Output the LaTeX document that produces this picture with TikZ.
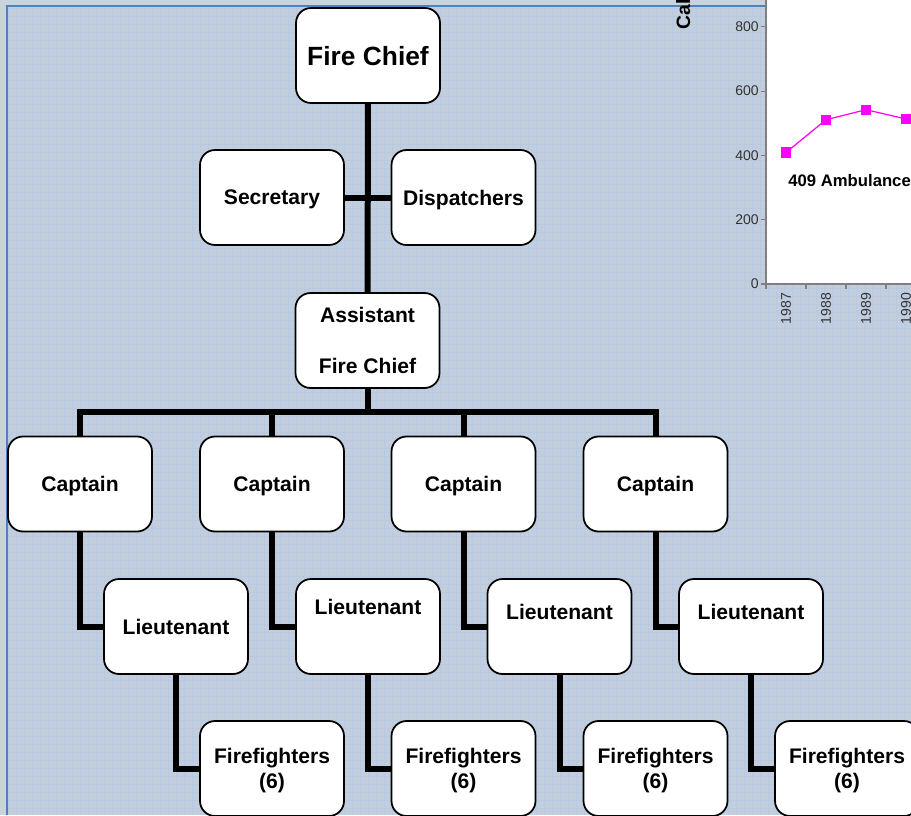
\documentclass[tikz,border=0pt]{standalone}
\usepackage{fontspec}
\setmainfont{Liberation Sans}
\usetikzlibrary{plotmarks}
\definecolor{paper}{HTML}{C8D3DB}
\definecolor{sheet}{HTML}{C2CEDD}
\definecolor{mesh}{HTML}{B8CAE2}
\definecolor{frameblue}{HTML}{4F81BD}
\definecolor{axisgray}{HTML}{7F7F7F}
\definecolor{callpink}{HTML}{FF00FF}
\tikzset{
  box/.style={draw, line width=1pt, fill=white, rounded corners=0.3cm,
    minimum width=2.88cm, minimum height=1.9cm, align=center, text depth=0pt,
    font=\bfseries\fontsize{12}{14.4}\selectfont},
  link/.style={line width=0.12cm},
  tick/.style={axisgray, line width=0.6pt},
  ticklabel/.style={text=black!80, font=\fontsize{8}{9.6}\selectfont, inner sep=1pt},
}
\begin{document}
\begin{tikzpicture}[x=0.02cm, y=-0.02cm]
			\useasboundingbox (0,0) rectangle (911,815);
			\clip (0,0) rectangle (911,815);
			% background sheet
			\fill[paper] (0,0) rectangle (911,815);
			\fill[sheet] (7,6) rectangle (911,815);
			\draw[mesh, very thin, step=0.16cm] (7,6) grid (911,815);
			\draw[frameblue, line width=0.05cm] (7,815) -- (7,6) -- (911,6);

			% chart in the corner
			\fill[white] (766,0) rectangle (911,284);
			\draw[tick] (766,0) -- (766,284) -- (911,284);
			\foreach \v in {0,200,...,800}
				\draw[tick] (761,284-0.3215*\v) -- (766,284-0.3215*\v) node[ticklabel, anchor=east, at start] {\v};
			\foreach \t in {766,806,846,886}
				\draw[tick] (\t,284) -- (\t,289);
			\foreach \yr [count=\k] in {1987,...,1990}
				\node[ticklabel, rotate=90, anchor=east] (yr\k) at (746+40*\k,291) {\yr};
			\draw[callpink, line width=0.7pt, mark=square*, mark size=2.5pt, mark options={fill=callpink}]
				plot coordinates {(786,152.5) (826,119.7) (866,109.7) (906,119)};
			\node[anchor=west, inner sep=0pt, font=\bfseries\fontsize{9.5}{11}\selectfont] (amb) at (788,181) {409 Ambulance};
			\node[rotate=90, anchor=base west, inner sep=0pt, font=\bfseries\fontsize{11}{13}\selectfont] (calls) at (690,30) {Calls};

			% the chart of command
			\node[box, font=\bfseries\fontsize{15}{18}\selectfont] (chief) at (368,55.5) {Fire Chief};
			\node[box] (sec) at (272,197.5) {Secretary};
			\node[box] (disp) at (463.5,197.5) {Dispatchers};
			\node[box] (asst) at (367.5,340.5) {Assistant\\[15pt]Fire Chief};
			\coordinate (bar) at (367.5,412);

			\foreach \x [count=\i] in {80,272,463.5,655.5}
				\node[box] (cap\i) at (\x,484) {Captain};
			\foreach \x/\r [count=\i] in {176/0, 368/0.78, 559.5/0.58, 751/0.58}
				\node[box] (lt\i) at (\x,626.5) {\raisebox{\r cm}{Lieutenant}};
			\foreach \x [count=\i] in {272,463.5,655.5,847}
				\node[box] (ff\i) at (\x,768.5) {Firefighters\\(6)};

			\draw[link] (chief) -- (asst);
			\draw[link] (sec) -- (disp);
			\draw[link] (asst) -- (bar);
			\foreach \i in {1,...,4} {
				\draw[link] (bar) -| (cap\i.north);
				\draw[link] (cap\i.south) |- (lt\i.west);
				\draw[link] (lt\i.south) |- (ff\i.west);
			}
		\end{tikzpicture}
\end{document}
